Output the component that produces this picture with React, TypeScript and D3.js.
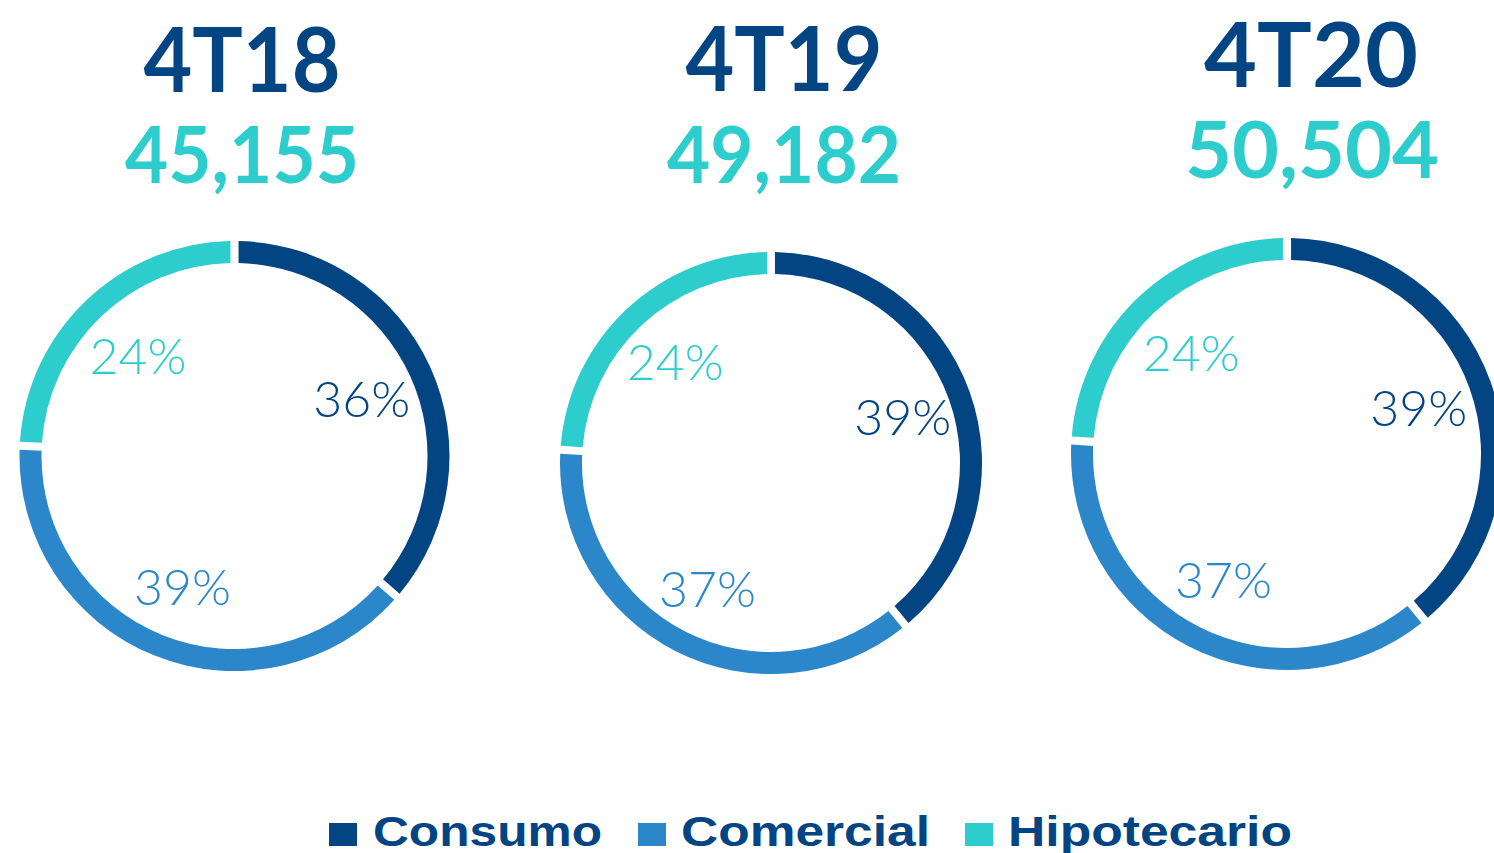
import * as d3 from 'd3';

const periods = ['4T18', '4T19', '4T20'];
const totals = ['45,155', '49,182', '50,504'];
const categories = ['Consumo', 'Comercial', 'Hipotecario'];
const consumo = [36, 39, 39];
const comercial = [39, 37, 37];
const hipotecario = [24, 24, 24];

const colors = ['#034482', '#2B87CA', '#2ECDCD'];

// layout of each panel (measured off the page)
const panels = [
  { cx: 234.5, cy: 456, r: 215, tx: 242, ty: 92, nx: 242, ny: 183 },
  { cx: 771, cy: 463, r: 211, tx: 784, ty: 91, nx: 784, ny: 183 },
  { cx: 1287, cy: 454, r: 216, tx: 1311, ty: 87, nx: 1312, ny: 178 },
];

const legendItems = [
  { sx: 329, tx: 373, tw: 229 },
  { sx: 638, tx: 681, tw: 249 },
  { sx: 965, tx: 1008, tw: 284 },
];

export default function App() {
  const pie = d3.pie<number>().sort(null).value(d => d);

  return (
    <svg
      width={1494}
      height={853}
      style={{ position: 'fixed', left: 0, top: 0, background: '#fff' }}
    >
      {periods.map((p, i) => {
        const pn = panels[i];
        const vals = [consumo[i], comercial[i], hipotecario[i]];
        const slices = pie(vals);
        const arc = d3.arc<d3.PieArcDatum<number>>()
          .innerRadius(pn.r - 22)
          .outerRadius(pn.r)
          .padAngle(0.028);
        const labelArc = d3.arc<d3.PieArcDatum<number>>()
          .innerRadius(140)
          .outerRadius(140);
        return (
          <g key={p}>
            <text
              x={pn.tx}
              y={pn.ty}
              textAnchor="middle"
              fontFamily="Lato, 'Open Sans', sans-serif"
              fontWeight={700}
              fontSize={89}
              fill="#034482"
              textLength={i === 2 ? 214 : 197}
              lengthAdjust="spacingAndGlyphs"
            >
              {p}
            </text>
            <text
              x={pn.nx}
              y={pn.ny}
              textAnchor="middle"
              fontFamily="Lato, 'Open Sans', sans-serif"
              fontWeight={700}
              fontSize={78}
              fill="#2ECDCD"
              textLength={i === 2 ? 254 : 234}
              lengthAdjust="spacingAndGlyphs"
            >
              {totals[i]}
            </text>
            <g transform={`translate(${pn.cx},${pn.cy})`}>
              {slices.map((s, j) => (
                <path key={j} d={arc(s) || ''} fill={colors[j]} />
              ))}
              {slices.map((s, j) => {
                const [lx, ly] = labelArc.centroid(s);
                return (
                  <text
                    key={'l' + j}
                    x={lx}
                    y={ly}
                    textAnchor="middle"
                    dominantBaseline="central"
                    fontFamily="Lato, 'Open Sans', sans-serif"
                    fontWeight={300}
                    fontSize={49}
                    fill={colors[j]}
                    textLength={97}
                    lengthAdjust="spacingAndGlyphs"
                  >
                    {vals[j]}%
                  </text>
                );
              })}
            </g>
          </g>
        );
      })}

      {categories.map((c, i) => (
        <g key={c}>
          <rect x={legendItems[i].sx} y={823} width={28} height={23} fill={colors[i]} />
          <text
            x={legendItems[i].tx}
            y={846}
            fontFamily="'Liberation Sans', Arial, sans-serif"
            fontWeight={700}
            fontSize={42}
            fill="#034482"
            textLength={legendItems[i].tw}
            lengthAdjust="spacingAndGlyphs"
          >
            {c}
          </text>
        </g>
      ))}
    </svg>
  );
}
